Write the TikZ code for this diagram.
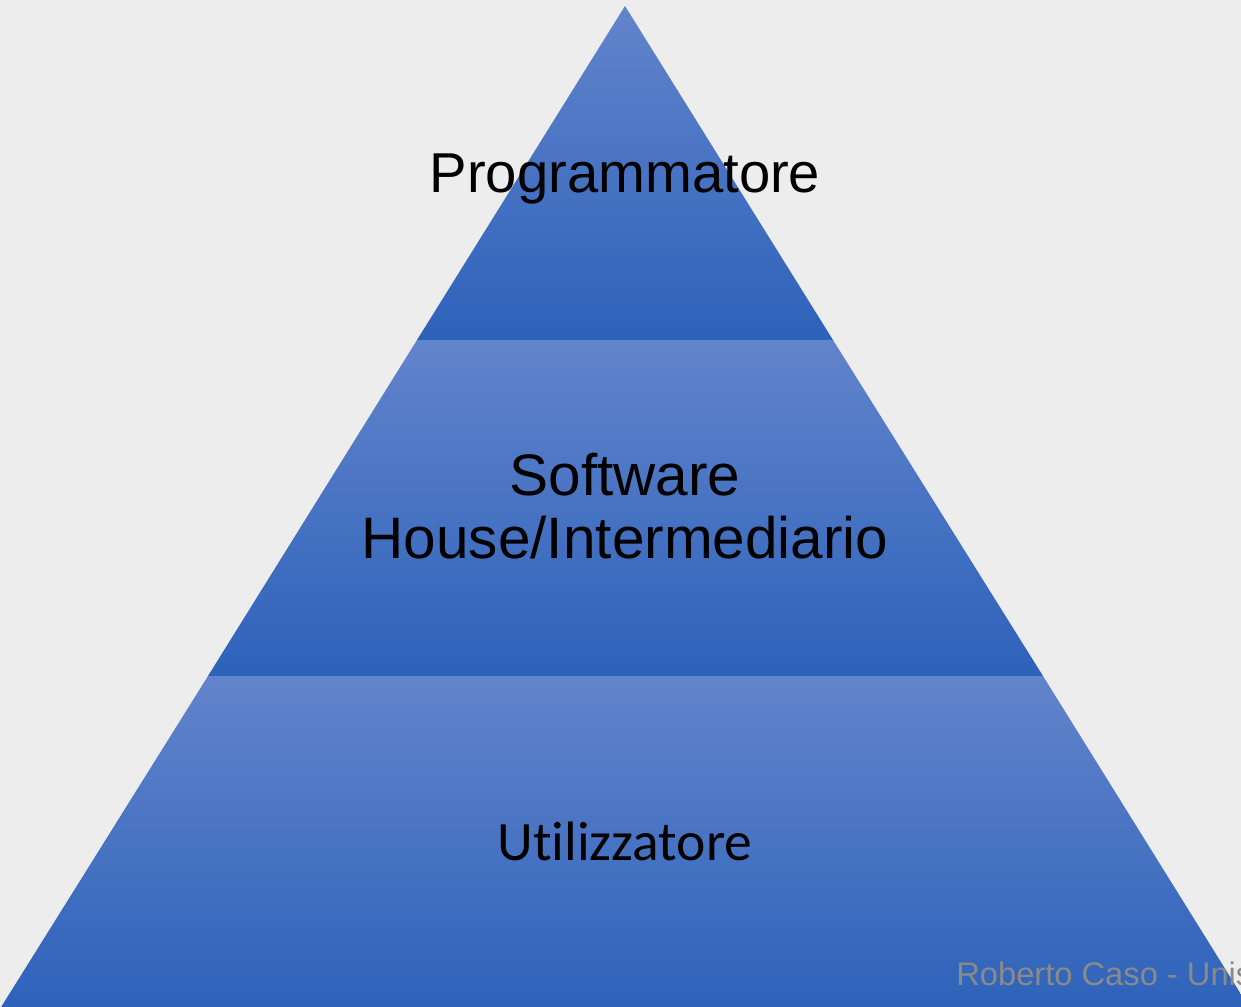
\documentclass[tikz,border=0pt]{standalone}
\usepackage{fontspec}
\setmainfont{Liberation Sans}
\newfontfamily\calibrifont[Ligatures=NoCommon]{Carlito}
\definecolor{bgGray}{HTML}{EDEDED}
\definecolor{layerTop}{RGB}{98,132,203}
\definecolor{layerBot}{RGB}{45,98,186}
\definecolor{markGray}{HTML}{8A8A8A}

\begin{document}
\begin{tikzpicture}[x=0.02cm,y=-0.02cm,
    layer/.style={top color=layerTop,bottom color=layerBot,shading angle=0},
    lvl/.style={anchor=base,text=black,inner sep=0pt,font=\fontsize{33.3}{35.7}\selectfont},
    wmark/.style={anchor=base west,text=markGray,inner sep=0pt,font=\fontsize{18.6}{22}\selectfont}]
  \clip (0,0) rectangle (1241,1007);
  \fill[bgGray] (0,0) rectangle (1241,1007);

  % three layers of the pyramid
  \shade[layer] (625,6) -- (833,340) -- (417,340) -- cycle;
  \shade[layer] (417,340) -- (833,340) -- (1043,676) -- (208,676) -- cycle;
  \shade[layer] (208,676) -- (1043,676) -- (1252,1012) -- (-2,1012) -- cycle;

  \node[lvl,font=\fontsize{32}{36}\selectfont] (prog) at (625,193) {Programmatore};
  \node[lvl,align=center] (soft) at (625,558) {Software\\House/Intermediario};
  \node[lvl,font=\calibrifont\fontsize{31.6}{36}\selectfont] (util) at (625,860) {Utilizzatore};

  \node[wmark] (wm) at (956,985) {Roberto Caso - Unis};
\end{tikzpicture}
\end{document}
